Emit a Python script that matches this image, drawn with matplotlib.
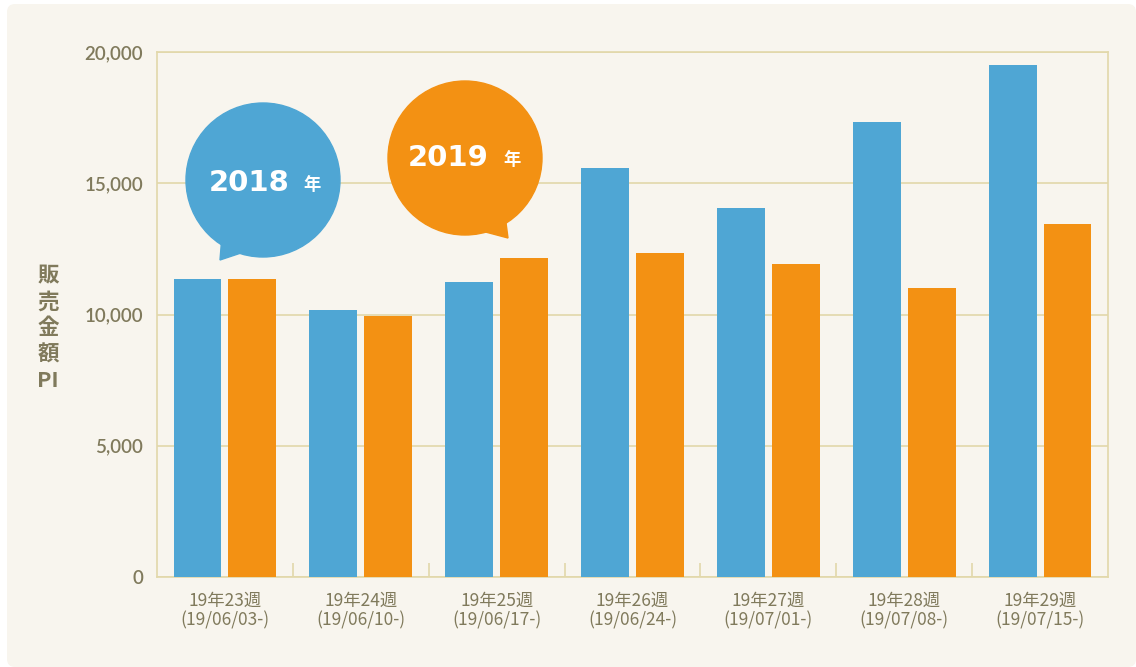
import numpy as np
import matplotlib
matplotlib.use("Agg")
import matplotlib.pyplot as plt
from matplotlib.patches import Circle, Polygon, FancyBboxPatch

plt.rcParams['font.family'] = ['Noto Sans CJK JP', 'DejaVu Sans']

# data
weeks = ["19年23週\n(19/06/03-)", "19年24週\n(19/06/10-)", "19年25週\n(19/06/17-)",
         "19年26週\n(19/06/24-)", "19年27週\n(19/07/01-)", "19年28週\n(19/07/08-)",
         "19年29週\n(19/07/15-)"]
sales_2018 = [11350, 10170, 11240, 15580, 14060, 17330, 19500]
sales_2019 = [11350, 9940, 12150, 12340, 11920, 11010, 13450]
yticks = [0, 5000, 10000, 15000, 20000]

blue = "#4fa6d4"
orange = "#f39113"
bg = "#f8f5ee"
grid_c = "#e2d8aa"
text_c = "#807a5c"

fig = plt.figure(figsize=(11.36, 6.67), dpi=100, facecolor="white")

# panel background (pixel coordinates)
back = fig.add_axes([0, 0, 1, 1], zorder=0)
back.set_xlim(0, 1136)
back.set_ylim(667, 0)
back.axis('off')
back.add_patch(FancyBboxPatch((7, 4), 1136 - 7, 667 - 4,
                              boxstyle="round,pad=0,rounding_size=8",
                              facecolor=bg, edgecolor="none"))

ax = fig.add_axes([157 / 1136, 90 / 667, 951 / 1136, 525 / 667], zorder=1)
ax.set_facecolor("none")

x = np.arange(len(weeks))
w = 0.353
off = 0.202
ax.bar(x - off, sales_2018, w, color=blue, zorder=3)
ax.bar(x + off, sales_2019, w, color=orange, zorder=3)

ax.set_xlim(-0.5, len(weeks) - 0.5)
ax.set_ylim(0, 20000)
ax.set_yticks(yticks)
ax.set_yticklabels([f"{v:,}" for v in yticks], fontsize=13.5, color=text_c,
                   family=['Lato', 'DejaVu Sans'], fontweight='semibold')
ax.yaxis.grid(True, color=grid_c, lw=1.2, zorder=1)
ax.tick_params(axis='y', length=0, pad=10)

ax.set_xticks(x)
ax.set_xticklabels(weeks, fontsize=12.5, color=text_c, linespacing=1.1)
ax.tick_params(axis='x', length=0, pad=11)
ax.set_xticks(np.arange(0.5, len(weeks) - 0.5, 1), minor=True)
ax.tick_params(axis='x', which='minor', direction='in', length=10, color=grid_c, width=1.2)

for s in ax.spines.values():
    s.set_color(grid_c)
    s.set_linewidth(1.2)

fig.text(48 / 1136, 1 - 328 / 667, "販\n売\n金\n額\nPI", ha='center', va='center',
         fontsize=15.5, fontweight='bold', color=text_c, linespacing=1.3, zorder=3)

# speech bubbles in pixel coordinates
ov = fig.add_axes([0, 0, 1, 1], zorder=2)
ov.set_xlim(0, 1136)
ov.set_ylim(667, 0)
ov.axis('off')

ov.add_patch(Circle((263, 180), 77, color=blue, zorder=5))
ov.add_patch(Polygon([[222, 235], [220, 260], [250, 250]], closed=True, color=blue, zorder=5))
ov.text(249, 183, "2018", ha='center', va='center', fontsize=21, fontweight='bold',
        color='white', zorder=6, family='DejaVu Sans')
ov.text(312, 185, "年", ha='center', va='center', fontsize=12.5, fontweight='bold',
        color='white', zorder=6)

ov.add_patch(Circle((465, 158), 77, color=orange, zorder=5))
ov.add_patch(Polygon([[505, 215], [508, 238], [478, 230]], closed=True, color=orange, zorder=5))
ov.text(448, 158, "2019", ha='center', va='center', fontsize=21, fontweight='bold',
        color='white', zorder=6, family='DejaVu Sans')
ov.text(512, 160, "年", ha='center', va='center', fontsize=12.5, fontweight='bold',
        color='white', zorder=6)

fig.savefig("out.png", dpi=100, facecolor="white")
